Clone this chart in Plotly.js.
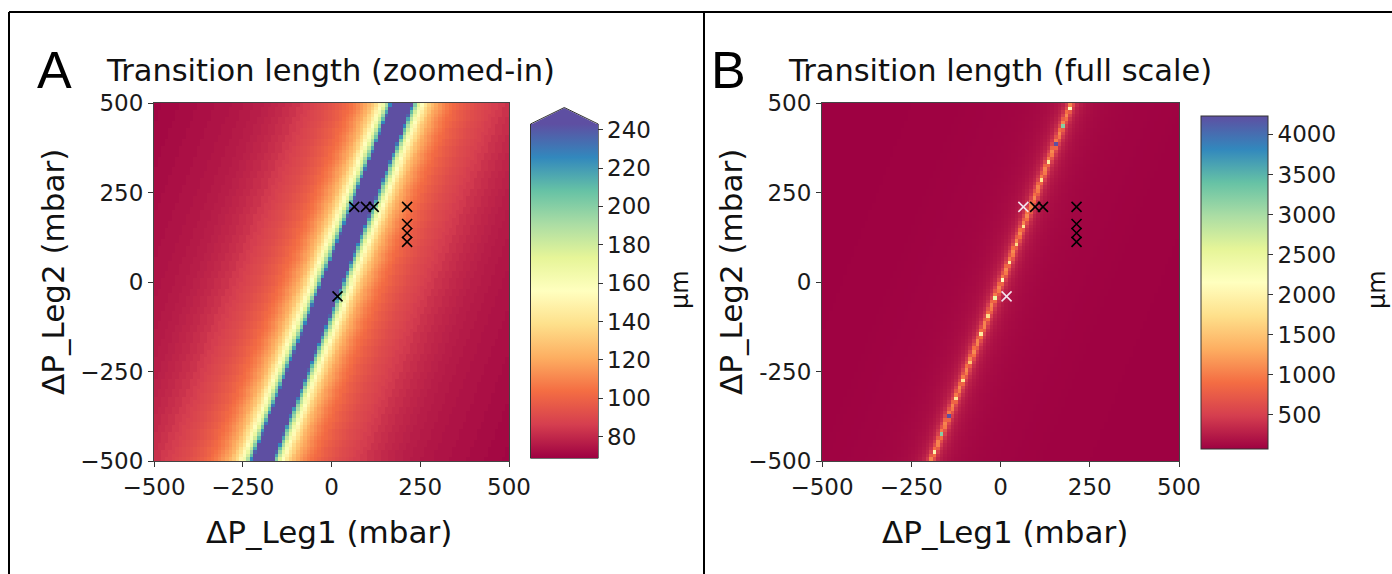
<!DOCTYPE html>
<html><head><meta charset="utf-8">
<script src="https://cdn.plot.ly/plotly-3.0.1.min.js"></script>
<style>html,body{margin:0;padding:0;background:#fff}#chart{width:1392px;height:574px}</style>
</head><body><div id="chart"></div>
<script>
// ---------------- data ----------------
const axisTicks = [-500, -250, 0, 250, 500];
const axisTickText = ["\u2212500", "\u2212250", "0", "250", "500"];
const axisTickTextYB = ["\u2212500", "-250", "0", "250", "500"];

// grid: 100 cells of 10 mbar, centred at -495 ... 495
const cellCount = 100;
const cellStep = 10;
const cellFirst = -495;

// singular line (transition length -> very large), two read points
const ridgeY = [-500, 500];
const ridgeX = [-195, 199];

const profileOffset = [0, 2, 3, 4, 5, 6, 7, 8, 9, 10, 11, 12, 13, 14, 15, 16, 17, 18, 19, 20,
  21, 22, 23, 24, 25, 26, 27, 28, 29, 30, 31, 32, 33, 34, 35, 36, 37, 38, 39, 40,
  42, 44, 46, 48, 50, 52, 54, 56, 58, 60, 62, 64, 66, 68, 70, 73, 76, 79, 82, 85,
  88, 91, 94, 97, 100, 105, 110, 115, 120, 125, 130, 135, 140, 145, 150, 160, 170, 180, 190, 200,
  210, 220, 230, 240, 250, 265, 280, 300, 320, 340, 360, 380, 400, 430, 460, 500, 550, 600, 650, 700, 800];
const profileValue = [1080, 1050, 980, 900, 820, 740, 670, 610, 560, 520, 487, 455, 430, 405, 385, 365, 350, 335, 322, 310,
  300, 291, 282, 275, 267, 260, 254, 248, 243, 237, 231, 226, 221, 217, 213, 209, 205, 202, 198, 195,
  190, 184, 179, 174, 170, 166, 163, 160, 157, 153, 151, 148, 146, 143, 141, 138, 135, 133, 130, 128,
  126, 124, 122, 120, 119, 117, 115, 113, 111, 109, 107.5, 106, 104.5, 103, 102, 100, 98, 96.5, 95, 93.5,
  92, 91, 90, 89, 88, 86.5, 85, 83, 81.5, 80, 79, 78, 77, 76, 75, 74, 73, 72, 71, 70, 69];

// single bright cells on the line (panel B)
const peakX = [195, 175, 155, 135, 115, 65, 45, 25, 5, -15, -35, -55, -85, -105, -125, -145, -165, -185];
const peakY = [485, 435, 385, 335, 285, 155, 105, 55, 5, -45, -95, -145, -225, -275, -325, -375, -425, -475];
const peakValue = [2100, 3200, 4228, 1900, 1800, 1800, 1700, 1900, 2150, 2450, 1700, 1900, 1500, 1800, 1800, 4228, 3200, 2000];

// measured operating points
const markerX = [64, 97, 119, 213, 213, 213, 213, 17];
const markerY = [210, 210, 210, 210, 162, 137, 112, -40];
const markerIsWhiteB = [true, false, false, false, false, false, false, true];

const cbTicksA = [80, 100, 120, 140, 160, 180, 200, 220, 240];
const cbTicksB = [500, 1000, 1500, 2000, 2500, 3000, 3500, 4000];
const rangeA = [69, 243];
const rangeB = [72, 4228];

// ---------------- build grid ----------------
const cellCentres = [];
for (let i = 0; i < cellCount; i++) cellCentres.push(cellFirst + i * cellStep);

function ridgeAt(y) {
  return ridgeX[0] + (y - ridgeY[0]) * (ridgeX[1] - ridgeX[0]) / (ridgeY[1] - ridgeY[0]);
}
function profileLookup(d) {
  let best = 0, bestErr = Infinity;
  for (let i = 0; i < profileOffset.length; i++) {
    const e = Math.abs(profileOffset[i] - d);
    if (e < bestErr) { bestErr = e; best = i; }
  }
  return profileValue[best];
}
const z = cellCentres.map(y => cellCentres.map(x => profileLookup(Math.abs(x - ridgeAt(y)))));
for (let k = 0; k < peakX.length; k++) {
  const c = cellCentres.indexOf(peakX[k]);
  const r = cellCentres.indexOf(peakY[k]);
  if (c >= 0 && r >= 0) z[r][c] = peakValue[k];
}

const spectral = [
  [0.0, '#9e0142'], [0.1, '#d53e4f'], [0.2, '#f46d43'], [0.3, '#fdae61'],
  [0.4, '#fee08b'], [0.5, '#ffffbf'], [0.6, '#e6f598'], [0.7, '#abdda4'],
  [0.8, '#66c2a5'], [0.9, '#3288bd'], [1.0, '#5e4fa2']
];

// ---------------- layout helpers ----------------
const W = 1392, H = 574;
const px = x => x / W;
const py = y => 1 - y / H;
const FONT = 'DejaVu Sans';
const tickFont = {family: FONT, size: 23, color: '#1a1a1a'};

function cb(xLeft, yTop, yBot, ticks, outline) {
  return {
    x: px(xLeft), xanchor: 'left', y: py((yTop + yBot) / 2), yanchor: 'middle',
    len: yBot - yTop, lenmode: 'pixels', thickness: 67, thicknessmode: 'pixels',
    xpad: 0, ypad: 0, outlinewidth: outline, outlinecolor: '#333',
    tickmode: 'array', tickvals: ticks, ticks: 'outside', ticklen: 5, tickwidth: 1,
    tickcolor: '#333', tickfont: tickFont
  };
}

const traces = [
  {type: 'heatmap', x: cellCentres, y: cellCentres, z: z, zmin: rangeA[0], zmax: rangeA[1],
   colorscale: spectral, zsmooth: false, xaxis: 'x', yaxis: 'y', hoverinfo: 'skip',
   colorbar: cb(531, 124, 457.7, cbTicksA, 0)},
  {type: 'heatmap', x: cellCentres, y: cellCentres, z: z, zmin: rangeB[0], zmax: rangeB[1],
   colorscale: spectral, zsmooth: false, xaxis: 'x2', yaxis: 'y2', hoverinfo: 'skip',
   colorbar: cb(1201, 116, 449.3, cbTicksB, 1)},
  {type: 'scatter', mode: 'markers', x: markerX, y: markerY, xaxis: 'x', yaxis: 'y', hoverinfo: 'skip',
   marker: {symbol: 'x-thin', size: 10, color: '#000', line: {width: 1.6, color: '#000'}}},
  {type: 'scatter', mode: 'markers', x: markerX, y: markerY, xaxis: 'x2', yaxis: 'y2', hoverinfo: 'skip',
   marker: {symbol: 'x-thin', size: 10,
            color: markerIsWhiteB.map(w => w ? '#f3e4ee' : '#000'),
            line: {width: 1.6, color: markerIsWhiteB.map(w => w ? '#f3e4ee' : '#000')}}}
];

function axis(domain, anchor, ticktext) {
  return {
    domain: domain, anchor: anchor, range: [-500, 500], autorange: false,
    tickmode: 'array', tickvals: axisTicks, ticktext: ticktext,
    ticks: 'outside', ticklen: 5, tickwidth: 1, tickcolor: '#333',
    showline: true, mirror: true, linecolor: '#444', linewidth: 1,
    showgrid: false, zeroline: false, tickfont: tickFont, fixedrange: true
  };
}
const yDom = [py(461), py(103)];

const ann = (x, y, text, size, opts) => Object.assign({
  xref: 'paper', yref: 'paper', x: px(x), y: py(y), text: text, showarrow: false,
  xanchor: 'center', yanchor: 'middle', font: {family: FONT, size: size, color: '#111'}
}, opts || {});

const layout = {
  width: W, height: H, margin: {l: 0, r: 0, t: 0, b: 0},
  paper_bgcolor: '#fff', plot_bgcolor: '#fff', showlegend: false,
  xaxis: axis([px(154), px(509)], 'y', axisTickText),
  yaxis: axis(yDom, 'x', axisTickText),
  xaxis2: axis([px(822), px(1179)], 'y2', axisTickText),
  yaxis2: axis(yDom, 'x2', axisTickTextYB),
  annotations: [
    ann(54, 70, 'A', 52, {font: {family: 'Liberation Sans', size: 52, color: '#000'}}),
    ann(728, 70, 'B', 52, {font: {family: 'Liberation Sans', size: 52, color: '#000'}}),
    ann(104, 70, 'Transition length (zoomed-in)', 30.5, {xanchor: 'left'}),
    ann(786, 70, 'Transition length (full scale)', 30.5, {xanchor: 'left'}),
    ann(329, 532, '\u0394P_Leg1 (mbar)', 31),
    ann(1005, 532, '\u0394P_Leg1 (mbar)', 31),
    ann(53, 272, '\u0394P_Leg2 (mbar)', 31, {textangle: -90}),
    ann(731, 272, '\u0394P_Leg2 (mbar)', 31, {textangle: -90}),
    ann(680, 290, '\u03bcm', 24, {textangle: -90}),
    ann(1377, 290, '\u03bcm', 24, {textangle: -90})
  ],
  shapes: [
    // extend triangle + outline of colorbar A
    {type: 'path', xref: 'paper', yref: 'paper', layer: 'above',
     path: `M ${px(531)},${py(124.5)} L ${px(564.3)},${py(108)} L ${px(597.7)},${py(124.5)} Z`,
     fillcolor: '#5e4fa2', line: {width: 0}},
    {type: 'path', xref: 'paper', yref: 'paper', layer: 'above',
     path: `M ${px(530.5)},${py(458.2)} L ${px(530.5)},${py(124)} L ${px(564.3)},${py(107.5)} L ${px(598.2)},${py(124)} L ${px(598.2)},${py(458.2)} Z`,
     line: {color: '#333', width: 1}},
    // figure frame and divider
    {type: 'line', xref: 'paper', yref: 'paper', x0: px(9), x1: 1.01, y0: py(12), y1: py(12), line: {color: '#000', width: 2}},
    {type: 'line', xref: 'paper', yref: 'paper', x0: px(9), x1: px(9), y0: py(12), y1: -0.01, line: {color: '#000', width: 2}},
    {type: 'line', xref: 'paper', yref: 'paper', x0: px(704), x1: px(704), y0: py(12), y1: -0.01, line: {color: '#000', width: 2}}
  ]
};

Plotly.newPlot('chart', traces, layout, {staticPlot: true, displayModeBar: false});
</script></body></html>
